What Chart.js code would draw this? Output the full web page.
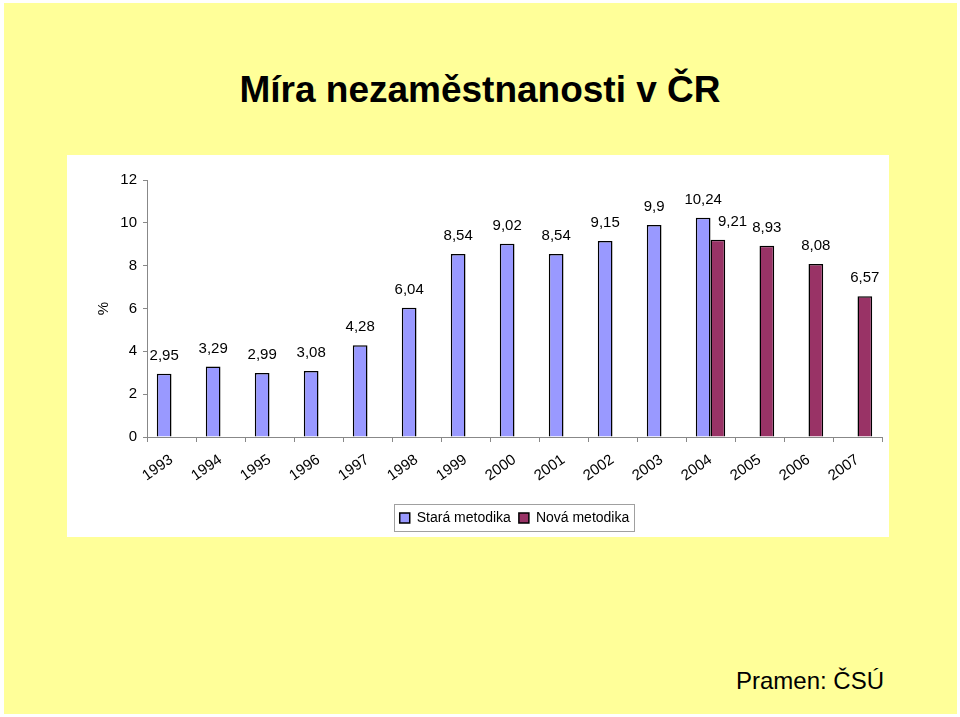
<!DOCTYPE html>
<html>
<head>
<meta charset="utf-8">
<script src="https://cdn.jsdelivr.net/npm/chart.js@4.4.1/dist/chart.umd.min.js"></script>
<style>
  body { margin: 0; background: #fff; font-family: "Liberation Sans", Arial, sans-serif; }
  #page { position: absolute; left: 4px; top: 3px; width: 953px; height: 711px; background: #ffff99; }
  #title { position: absolute; left: 0; top: 71px; width: 960px; text-align: center;
           font-size: 37px; font-weight: bold; line-height: 37px; color: #000; }
  #box { position: absolute; left: 67px; top: 155px; width: 822px; height: 382px; background: #fff; }
  #source { position: absolute; left: 736px; top: 669px; font-size: 24px; line-height: 24px; color: #000; }
</style>
</head>
<body>
<div id="page"></div>
<div id="title">Míra nezaměstnanosti v ČR</div>
<div id="box"><canvas id="chart" width="822" height="382"></canvas></div>
<div id="source">Pramen: ČSÚ</div>
<script>
const years = ['1993', '1994', '1995', '1996', '1997', '1998', '1999', '2000',
               '2001', '2002', '2003', '2004', '2005', '2006', '2007'];
const staraMetodika = [2.95, 3.29, 2.99, 3.08, 4.28, 6.04, 8.54, 9.02, 8.54, 9.15, 9.9, 10.24, null, null, null];
const novaMetodika = [null, null, null, null, null, null, null, null, null, null, null, 9.21, 8.93, 8.08, 6.57];
const yTicks = [0, 2, 4, 6, 8, 10, 12];

const FONT = '"Liberation Sans", Arial, sans-serif';

// value labels above bars, Czech decimal comma
const valueLabels = {
    id: 'valueLabels',
    afterDatasetsDraw(chart) {
        const ctx = chart.ctx;
        ctx.save();
        ctx.font = '15px ' + FONT;
        ctx.fillStyle = '#000';
        ctx.textAlign = 'center';
        ctx.textBaseline = 'middle';
        chart.data.datasets.forEach((ds, di) => {
            const meta = chart.getDatasetMeta(di);
            meta.data.forEach((bar, i) => {
                const v = ds.data[i];
                if (v == null) return;
                let x = bar.x;
                // shift the new-method label when both bars share a year
                if (di === 1 && chart.data.datasets[0].data[i] != null) x += bar.width;
                ctx.fillText(String(v).replace('.', ','), x, bar.y - 18);
            });
        });
        ctx.restore();
    }
};

// thin grey frame round the legend
const legendFrame = {
    id: 'legendFrame',
    afterDraw(chart) {
        const boxes = chart.legend && chart.legend.legendHitBoxes;
        if (!boxes || !boxes.length) return;
        const first = boxes[0], last = boxes[boxes.length - 1];
        const ctx = chart.ctx;
        ctx.save();
        ctx.strokeStyle = '#a0a0a0';
        ctx.lineWidth = 1;
        ctx.strokeRect(Math.round(first.left - 6) + 0.5, Math.round(first.top - 7) + 0.5,
                       Math.round(last.left + last.width - first.left + 10), Math.round(first.height + 13));
        ctx.restore();
    }
};

new Chart(document.getElementById('chart'), {
    type: 'bar',
    data: {
        labels: years,
        datasets: [
            {
                label: 'Stará metodika',
                data: staraMetodika,
                backgroundColor: '#9999ff',
                borderColor: '#000',
                borderWidth: 1.5
            },
            {
                label: 'Nová metodika',
                data: novaMetodika,
                backgroundColor: '#993366',
                borderColor: '#000',
                borderWidth: 1.5
            }
        ]
    },
    options: {
        responsive: false,
        animation: false,
        events: [],
        barPercentage: 1,
        categoryPercentage: 0.6,
        layout: { padding: { left: 24, right: 7, top: 25, bottom: 2 } },
        plugins: {
            tooltip: { enabled: false },
            legend: {
                position: 'bottom',
                fullSize: false,
                labels: {
                    boxWidth: 10,
                    boxHeight: 10,
                    padding: 8,
                    color: '#000',
                    font: { family: FONT, size: 14 }
                }
            }
        },
        scales: {
            x: {
                grid: { offset: true, drawOnChartArea: false, tickLength: 5, color: '#888' },
                border: { color: '#888' },
                ticks: {
                    color: '#000',
                    font: { family: FONT, size: 15 },
                    minRotation: 35,
                    maxRotation: 35,
                    padding: 9
                },
                afterFit(scale) { scale.height = 66; }
            },
            y: {
                min: 0,
                max: 12,
                afterBuildTicks(scale) { scale.ticks = yTicks.map(v => ({ value: v })); },
                grid: { drawOnChartArea: false, tickLength: 4, color: '#888' },
                border: { color: '#888' },
                ticks: { color: '#000', font: { family: FONT, size: 15 }, padding: 6 },
                title: { display: true, text: '%', color: '#000', font: { family: FONT, size: 15 } },
                afterFit(scale) { scale.width = 56; }
            }
        }
    },
    plugins: [valueLabels, legendFrame]
});
</script>
</body>
</html>
